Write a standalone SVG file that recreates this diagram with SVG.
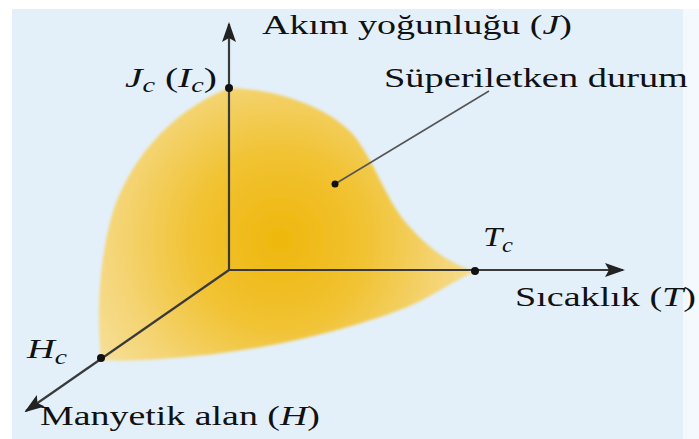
<svg xmlns="http://www.w3.org/2000/svg" width="699" height="439" viewBox="0 0 699 439">
<defs>
<radialGradient id="gold" cx="280" cy="240" r="215" gradientUnits="userSpaceOnUse">
<stop offset="0" stop-color="#efb70c"/>
<stop offset="0.4" stop-color="#f1c232"/>
<stop offset="0.75" stop-color="#f4d473"/>
<stop offset="1" stop-color="#f6df98"/>
</radialGradient>
<filter id="soft" x="-10%" y="-10%" width="120%" height="120%"><feGaussianBlur stdDeviation="1.5"/></filter>
<marker id="arr" viewBox="0 0 20 14" refX="18" refY="7" markerWidth="20" markerHeight="14" markerUnits="userSpaceOnUse" orient="auto">
<path d="M0,0 L20,7 L0,14 L4,7 Z" fill="#222"/>
</marker>
</defs>
<style>
.t{font-family:"Liberation Serif","Times New Roman",serif;font-size:28px;fill:#111}
.i{font-style:italic}
.s{font-size:20px;font-style:italic}
.ax{stroke:#3a3a3a;stroke-width:2.2;fill:none}
.dot{fill:#111}
</style>
<rect x="0" y="0" width="699" height="439" fill="#ffffff"/>
<rect x="12" y="9" width="671" height="430" fill="#e3f0fa"/>
<rect x="683" y="9" width="16" height="430" fill="#f3f9fd"/>

<g id="region">
<path d="M229,88 C 278,89 332,108 356,138 C 376,165 386,200 408,225 C 428,248 450,264 475,271 C 450,283 430,298 405,308 C 340,333 250,354 160,359 C 130,361 112,361 101,360 C 97,320 98,270 110,222 C 125,165 168,112 229,88 Z" fill="url(#gold)" filter="url(#soft)"/>
</g>

<g id="connectors">
<line class="ax" x1="229" y1="270" x2="229" y2="24" marker-end="url(#arr)"/>
<line class="ax" x1="229" y1="270" x2="623" y2="270" marker-end="url(#arr)"/>
<line class="ax" x1="229" y1="270" x2="26" y2="411" marker-end="url(#arr)"/>
<line x1="335" y1="184" x2="489" y2="91" stroke="#555" stroke-width="1.6"/>
</g>

<g id="dots">
<circle class="dot" cx="229" cy="88" r="4"/>
<circle class="dot" cx="475" cy="271" r="4"/>
<circle class="dot" cx="101" cy="358" r="4"/>
<circle class="dot" cx="335" cy="184" r="3.5"/>
</g>

<g id="labels">
<text class="t" x="262" y="34" textLength="310" lengthAdjust="spacingAndGlyphs">Akım yoğunluğu (<tspan class="i">J</tspan>)</text>
<text class="t" x="125" y="87" textLength="92" lengthAdjust="spacingAndGlyphs"><tspan class="i">J</tspan><tspan class="s" dy="5">c</tspan><tspan dy="-5"> (</tspan><tspan class="i">I</tspan><tspan class="s" dy="5">c</tspan><tspan dy="-5">)</tspan></text>
<text class="t" x="384" y="87" textLength="304" lengthAdjust="spacingAndGlyphs">Süperiletken durum</text>
<text class="t" x="483" y="246" textLength="30" lengthAdjust="spacingAndGlyphs"><tspan class="i">T</tspan><tspan class="s" dy="6">c</tspan></text>
<text class="t" x="515" y="306" textLength="181" lengthAdjust="spacingAndGlyphs">Sıcaklık (<tspan class="i">T</tspan>)</text>
<text class="t" x="27" y="358" textLength="40" lengthAdjust="spacingAndGlyphs"><tspan class="i">H</tspan><tspan class="s" dy="6">c</tspan></text>
<text class="t" x="40" y="425" textLength="280" lengthAdjust="spacingAndGlyphs">Manyetik alan (<tspan class="i">H</tspan>)</text>
</g>
</svg>
